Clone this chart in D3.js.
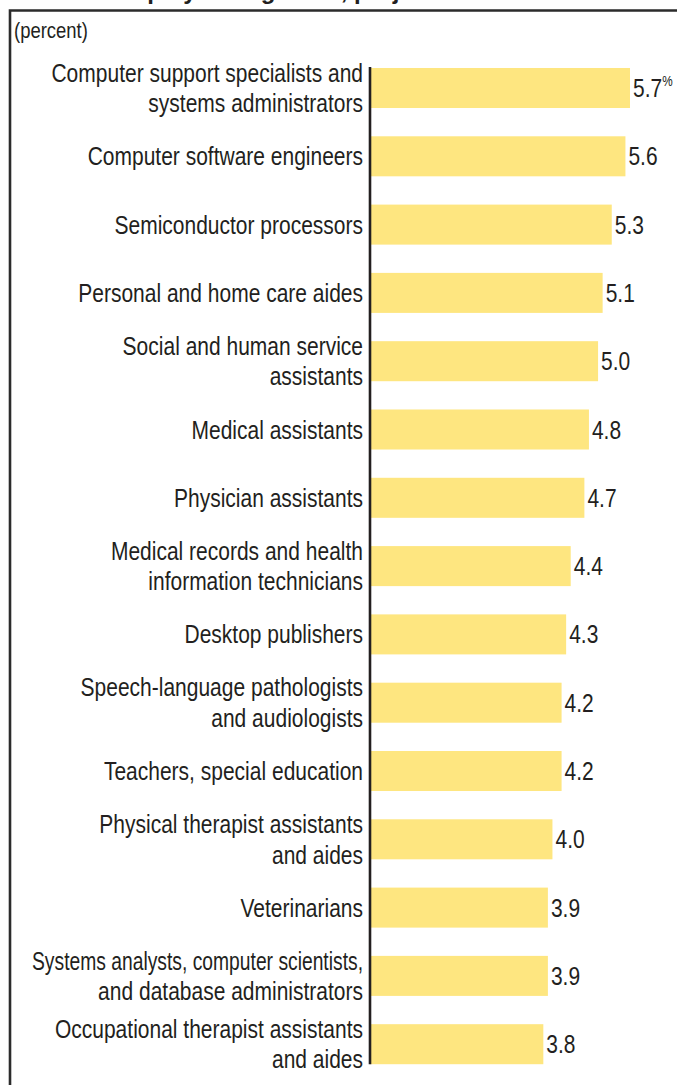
<!DOCTYPE html>
<html>
<head>
<meta charset="utf-8">
<script src="https://cdn.jsdelivr.net/npm/d3@7"></script>
<style>
  html, body { margin: 0; padding: 0; background: #fff; }
  svg { display: block; }
</style>
</head>
<body>
<svg id="chart" width="677" height="1085"></svg>
<script>
// Occupations (line breaks as printed) and projected growth, percent
const occupations = [
  ["Computer support specialists and", "systems administrators"],
  ["Computer software engineers"],
  ["Semiconductor processors"],
  ["Personal and home care aides"],
  ["Social and human service", "assistants"],
  ["Medical assistants"],
  ["Physician assistants"],
  ["Medical records and health", "information technicians"],
  ["Desktop publishers"],
  ["Speech-language pathologists", "and audiologists"],
  ["Teachers, special education"],
  ["Physical therapist assistants", "and aides"],
  ["Veterinarians"],
  ["Systems analysts, computer scientists,", "and database administrators"],
  ["Occupational therapist assistants", "and aides"]
];
const growth = [5.7, 5.6, 5.3, 5.1, 5.0, 4.8, 4.7, 4.4, 4.3, 4.2, 4.2, 4.0, 3.9, 3.9, 3.8];
const valueLabels = ["5.7", "5.6", "5.3", "5.1", "5.0", "4.8", "4.7", "4.4", "4.3", "4.2", "4.2", "4.0", "3.9", "3.9", "3.8"];
const titleText = "Employment growth, projected";
const unitText = "(percent)";

const ink = "#231f20";
const barColor = "#fee680";
const face = "'Liberation Sans', Arial, sans-serif";
const squeeze = 0.84;      // horizontal compression for the condensed lettering
const maxLabelWidth = 331; // room between the frame and the axis

const svg = d3.select("#chart");

const x = d3.scaleLinear().domain([0, 5.7]).range([370, 630]);
const y = d3.scaleBand()
  .domain(d3.range(growth.length))
  .range([53.85, 1078.35])
  .paddingInner(0.414)
  .paddingOuter(0.207);

// Title, running off the top edge
svg.append("text")
  .attr("x", 110).attr("y", -1)
  .attr("font-family", face)
  .attr("font-weight", "bold")
  .attr("font-size", 24)
  .attr("fill", ink)
  .text(titleText);

// Frame: top rule and left rule
svg.append("path")
  .attr("d", "M10,1085 V10.5 H677")
  .attr("fill", "none")
  .attr("stroke", "#2b2b2b")
  .attr("stroke-width", 2.6);

svg.append("text")
  .attr("transform", `translate(14,38) scale(${squeeze},1)`)
  .attr("font-family", face)
  .attr("font-size", 22)
  .attr("fill", ink)
  .text(unitText);

// Bars
svg.append("g").selectAll("rect")
  .data(growth)
  .join("rect")
  .attr("x", x(0))
  .attr("y", (d, i) => y(i))
  .attr("width", d => x(d) - x(0))
  .attr("height", y.bandwidth())
  .attr("fill", barColor);

// Category axis line
svg.append("line")
  .attr("x1", x(0)).attr("x2", x(0))
  .attr("y1", y(0) - 1).attr("y2", y(growth.length - 1) + y.bandwidth())
  .attr("stroke", ink)
  .attr("stroke-width", 2.6);

// Category labels, right-aligned against the axis
const lineH = 30.5;
const labels = svg.append("g")
  .attr("font-family", face)
  .attr("font-size", 25)
  .attr("fill", ink)
  .attr("text-anchor", "end");

occupations.forEach((lines, i) => {
  const cy = y(i) + y.bandwidth() / 2;
  const t = labels.append("text")
    .attr("transform", `translate(363,${cy - (lines.length - 1) * lineH / 2}) scale(${squeeze},1)`);
  lines.forEach((ln, j) => {
    const span = t.append("tspan")
      .attr("x", 0)
      .attr("y", j * lineH)
      .attr("dy", "0.36em")
      .text(ln);
    // keep long lines inside the frame
    const w = span.node().getComputedTextLength() * squeeze;
    if (w > maxLabelWidth) {
      span.attr("textLength", maxLabelWidth / squeeze)
        .attr("lengthAdjust", "spacingAndGlyphs");
    }
  });
});

// Value labels at bar ends
const values = svg.append("g")
  .attr("font-family", face)
  .attr("font-size", 25)
  .attr("fill", ink);

growth.forEach((v, i) => {
  const t = values.append("text")
    .attr("transform", `translate(${x(v) + 3},${y(i) + y.bandwidth() / 2}) scale(${squeeze},1)`)
    .attr("dy", "0.36em")
    .text(valueLabels[i]);
  if (i === 0) {
    t.append("tspan")
      .attr("font-size", 14)
      .attr("dy", "-0.8em")
      .text("%");
  }
});
</script>
</body>
</html>
